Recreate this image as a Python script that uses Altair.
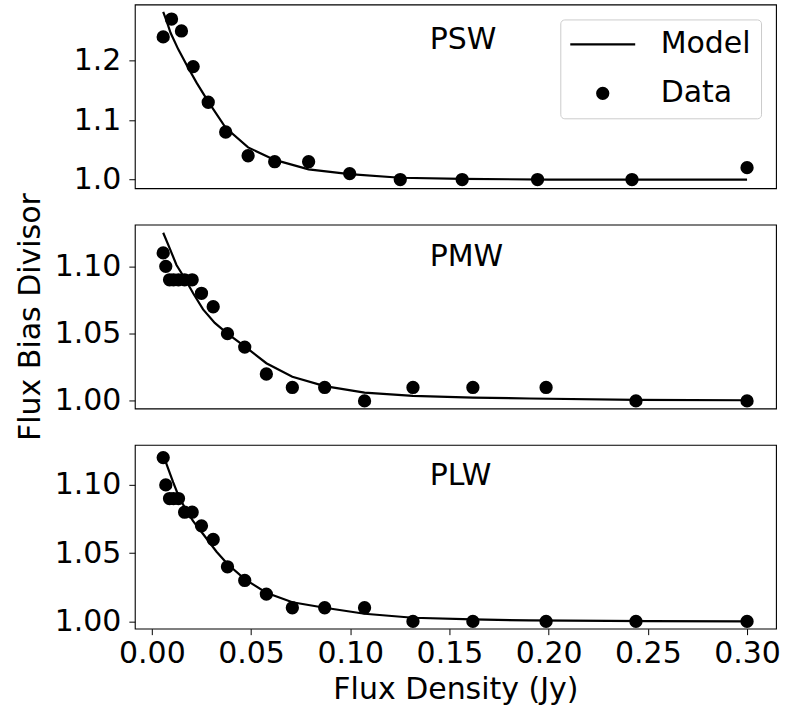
import altair as alt
import pandas as pd

# ---------------- data ----------------
bands = ["PSW", "PMW", "PLW"]
label_x = [0.14, 0.14, 0.14]
label_y = [1.22, 1.10, 1.10]

psw_x = [0.0057, 0.0099, 0.0149, 0.0208, 0.0284, 0.0372, 0.0485, 0.0619, 0.0790,
         0.0997, 0.1252, 0.1564, 0.1944, 0.2420, 0.3000]
psw_y = [1.24, 1.27, 1.25, 1.19, 1.13, 1.08, 1.04, 1.03, 1.03,
         1.01, 1.00, 1.00, 1.00, 1.00, 1.02]

pmw_x = [0.0057, 0.0070, 0.0089, 0.0109, 0.0134, 0.0165, 0.0203, 0.0250, 0.0309, 0.0381,
         0.0468, 0.0577, 0.0708, 0.0871, 0.1072, 0.1316, 0.1618, 0.1987, 0.2440, 0.3000]
pmw_y = [1.11, 1.10, 1.09, 1.09, 1.09, 1.09, 1.09, 1.08, 1.07, 1.05,
         1.04, 1.02, 1.01, 1.01, 1.00, 1.01, 1.01, 1.01, 1.00, 1.00]

plw_x = [0.0057, 0.0070, 0.0089, 0.0109, 0.0134, 0.0165, 0.0203, 0.0250, 0.0309, 0.0381,
         0.0468, 0.0577, 0.0708, 0.0871, 0.1072, 0.1316, 0.1618, 0.1987, 0.2440, 0.3000]
plw_y = [1.12, 1.10, 1.09, 1.09, 1.09, 1.08, 1.08, 1.07, 1.06, 1.04,
         1.03, 1.02, 1.01, 1.01, 1.01, 1.00, 1.00, 1.00, 1.00, 1.00]

psw_model_x = [0.0057, 0.0074, 0.0094, 0.0133, 0.0178, 0.0225, 0.0284, 0.0372, 0.0485,
               0.0619, 0.0790, 0.0997, 0.1252, 0.1564, 0.2000, 0.2500, 0.3000]
psw_model_y = [1.282, 1.267, 1.247, 1.219, 1.191, 1.163, 1.131, 1.087, 1.054,
               1.033, 1.017, 1.009, 1.003, 1.001, 1.000, 1.000, 1.000]

pmw_model_x = [0.0057, 0.0091, 0.0124, 0.0166, 0.0208, 0.0258, 0.0317, 0.0381, 0.0468,
               0.0577, 0.0708, 0.0871, 0.1072, 0.1316, 0.1618, 0.1903, 0.2440, 0.3000]
pmw_model_y = [1.125, 1.113, 1.101, 1.091, 1.080, 1.068, 1.058, 1.050, 1.0405,
               1.028, 1.018, 1.011, 1.0062, 1.0037, 1.0025, 1.0018, 1.0008, 1.0005]

plw_model_x = [0.0057, 0.0082, 0.0107, 0.0137, 0.0175, 0.0208, 0.0258, 0.0326, 0.0381,
               0.0468, 0.0577, 0.0708, 0.0871, 0.1072, 0.1316, 0.1618, 0.1900, 0.2500, 0.3000]
plw_model_y = [1.122, 1.112, 1.102, 1.091, 1.081, 1.0735, 1.064, 1.051, 1.042,
               1.031, 1.021, 1.014, 1.010, 1.0056, 1.0027, 1.0015, 1.0007, 1.0002, 1.0000]

x_ticks = [0.00, 0.05, 0.10, 0.15, 0.20, 0.25, 0.30]
x_domain = [-0.0086, 0.3146]
y_domains = [[0.9854, 1.2946], [0.9944, 1.1310], [0.9947, 1.1293]]
y_ticks = [[1.0, 1.1, 1.2], [1.00, 1.05, 1.10], [1.00, 1.05, 1.10]]
y_formats = [".1f", ".2f", ".2f"]

legend_items = ["Model", "Data"]

# ---------------- style ----------------
FONT = "DejaVu Sans"
FS = 30
W, H = 642, 184
# thin filled bar used as the "line" legend symbol
LINE_SYMBOL = "M-4.887,-0.16L4.887,-0.16L4.887,0.16L-4.887,0.16Z"


def panel(i, dx, dy, mx, my):
    data = pd.DataFrame({"x": dx, "y": dy, "kind": ["Data"] * len(dx)})
    model = pd.DataFrame({"x": mx, "y": my})
    lab = pd.DataFrame({"x": [label_x[i]], "y": [label_y[i]], "t": [bands[i]]})

    xs = alt.Scale(domain=x_domain, nice=False, zero=False)
    if i == 2:
        xenc = alt.X("x:Q", scale=xs,
                     axis=alt.Axis(values=x_ticks, format=".2f", title="Flux Density (Jy)",
                                   labelFlush=False, labelPadding=4, titlePadding=6))
    else:
        xenc = alt.X("x:Q", scale=xs, axis=None)

    if i == 1:
        yaxis = alt.Axis(values=y_ticks[i], format=y_formats[i], title="Flux Bias Divisor",
                         titlePadding=9)
    else:
        yaxis = alt.Axis(values=y_ticks[i], format=y_formats[i], title=None)
    yenc = alt.Y("y:Q", scale=alt.Scale(domain=y_domains[i], nice=False, zero=False), axis=yaxis)

    line = alt.Chart(model).mark_line(color="black", strokeWidth=2.2).encode(x=xenc, y=yenc)

    if i == 0:
        pts = alt.Chart(data).mark_point(
            filled=True, size=128, color="black", stroke="black", strokeWidth=2, opacity=1
        ).encode(
            x=xenc, y=yenc,
            shape=alt.Shape(
                "kind:N",
                scale=alt.Scale(domain=legend_items, range=[LINE_SYMBOL, "circle"]),
                legend=alt.Legend(
                    title=None, orient="top-right", offset=15, padding=10, rowPadding=19,
                    symbolOffset=17.5, labelOffset=43, labelFont=FONT, labelFontSize=FS,
                    labelColor="black", strokeColor="#cccccc", fillColor="white",
                    cornerRadius=4, symbolSize=177, symbolStrokeWidth=0,
                    symbolFillColor="black", symbolOpacity=1,
                ),
            ),
        )
    else:
        pts = alt.Chart(data).mark_point(
            filled=True, size=128, color="black", stroke="black", strokeWidth=2, opacity=1,
            shape="circle"
        ).encode(x=xenc, y=yenc)

    txt = alt.Chart(lab).mark_text(
        align="left", baseline="alphabetic", font=FONT, fontSize=FS, color="black"
    ).encode(x=xenc, y=yenc, text="t:N")

    return alt.layer(line, pts, txt).properties(width=W, height=H)


chart = alt.vconcat(
    panel(0, psw_x, psw_y, psw_model_x, psw_model_y),
    panel(1, pmw_x, pmw_y, pmw_model_x, pmw_model_y),
    panel(2, plw_x, plw_y, plw_model_x, plw_model_y),
    spacing=36.5,
    bounds="flush",
).properties(
    padding={"left": 14, "top": 3, "right": 5, "bottom": 5}
).configure_axis(
    labelFont=FONT, labelFontSize=FS, labelColor="black",
    titleFont=FONT, titleFontSize=FS, titleFontWeight="normal", titleColor="black",
    tickColor="black", tickSize=6, tickWidth=1, domain=False, grid=False, labelPadding=8,
).configure_view(
    stroke="black", strokeWidth=1.1
)

chart.save("out.html", embed_options={"renderer": "svg", "actions": False})
